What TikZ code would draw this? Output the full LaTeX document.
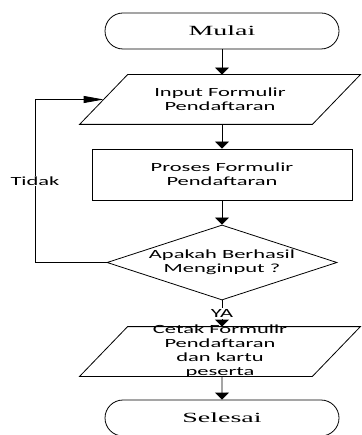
\documentclass[tikz,border=0pt]{standalone}
\usepackage{fontspec}
\newfontfamily\isifont[FakeStretch=1.8]{Carlito}
\newfontfamily\ujungfont[FakeStretch=2.0]{Liberation Serif}
\usetikzlibrary{arrows.meta,shapes.geometric,shapes.misc}

\begin{document}
\begin{tikzpicture}[x=1pt, y=-1pt, line width=0.8pt,
    terminal/.style={rounded rectangle, draw, minimum width=234, minimum height=36,
        inner sep=0pt, font=\ujungfont\fontsize{14}{16}\selectfont},
    masukan/.style={rectangle, minimum width=232, minimum height=49, inner sep=0pt},
    proses/.style={rectangle, draw, minimum width=260, minimum height=51},
    putusan/.style={diamond, draw, minimum width=230, minimum height=75, inner sep=0pt},
    teks/.style={font=\isifont\fontsize{12.5}{14}\selectfont, align=center, inner sep=0pt},
    ket/.style={teks, fill=white, inner sep=1pt},
    alir/.style={-{Triangle[length=7pt,width=14pt]}}]
    \useasboundingbox (0,0) rectangle (361,435);

    % Start
    \node[terminal] (mulai) at (222,31) {Mulai};

    % Input form
    \node[masukan, label={[teks]center:{Input Formulir\\Pendaftaran}}] (input) at (220,99.5) {};

    % Process form
    \node[proses, teks] (proses) at (222,174.5) {Proses Formulir\\Pendaftaran};

    % Decision
    \node[putusan, label={[teks]center:{Apakah Berhasil\\Menginput ?}}] (cek) at (222,262.5) {};

    % Print output
    \node[masukan, label={[teks]center:{Cetak Formulir\\Pendaftaran\\dan kartu\\peserta}}] (cetak) at (220,351.5) {};

    % End
    \node[terminal] (selesai) at (222,418) {Selesai};

    % Slanted sides of the data boxes
    \foreach \n in {input,cetak} {
        \draw ([xshift=24]\n.north west) -- ([xshift=24]\n.north east)
            -- ([xshift=-24]\n.south east) -- ([xshift=-24]\n.south west) -- cycle;
    }

    % Main flow
    \draw[alir] (mulai.south) -- (mulai.south |- input.north);
    \draw[alir] (mulai.south |- input.south) -- (proses.north);
    \draw[alir] (proses) -- (cek);
    \draw[alir] (cek) -- node[ket] {YA} (cek.south |- cetak.north);
    \draw[alir] (cek.south |- cetak.south) -- (selesai);

    % Loop back when input fails
    \coordinate (balik) at (35,0);
    \draw[-{Triangle[length=20pt,width=7pt]}] (cek.west) -- (cek.west -| balik)
        -- node[ket] {Tidak} (input.west -| balik) -- (input.west);
\end{tikzpicture}
\end{document}
